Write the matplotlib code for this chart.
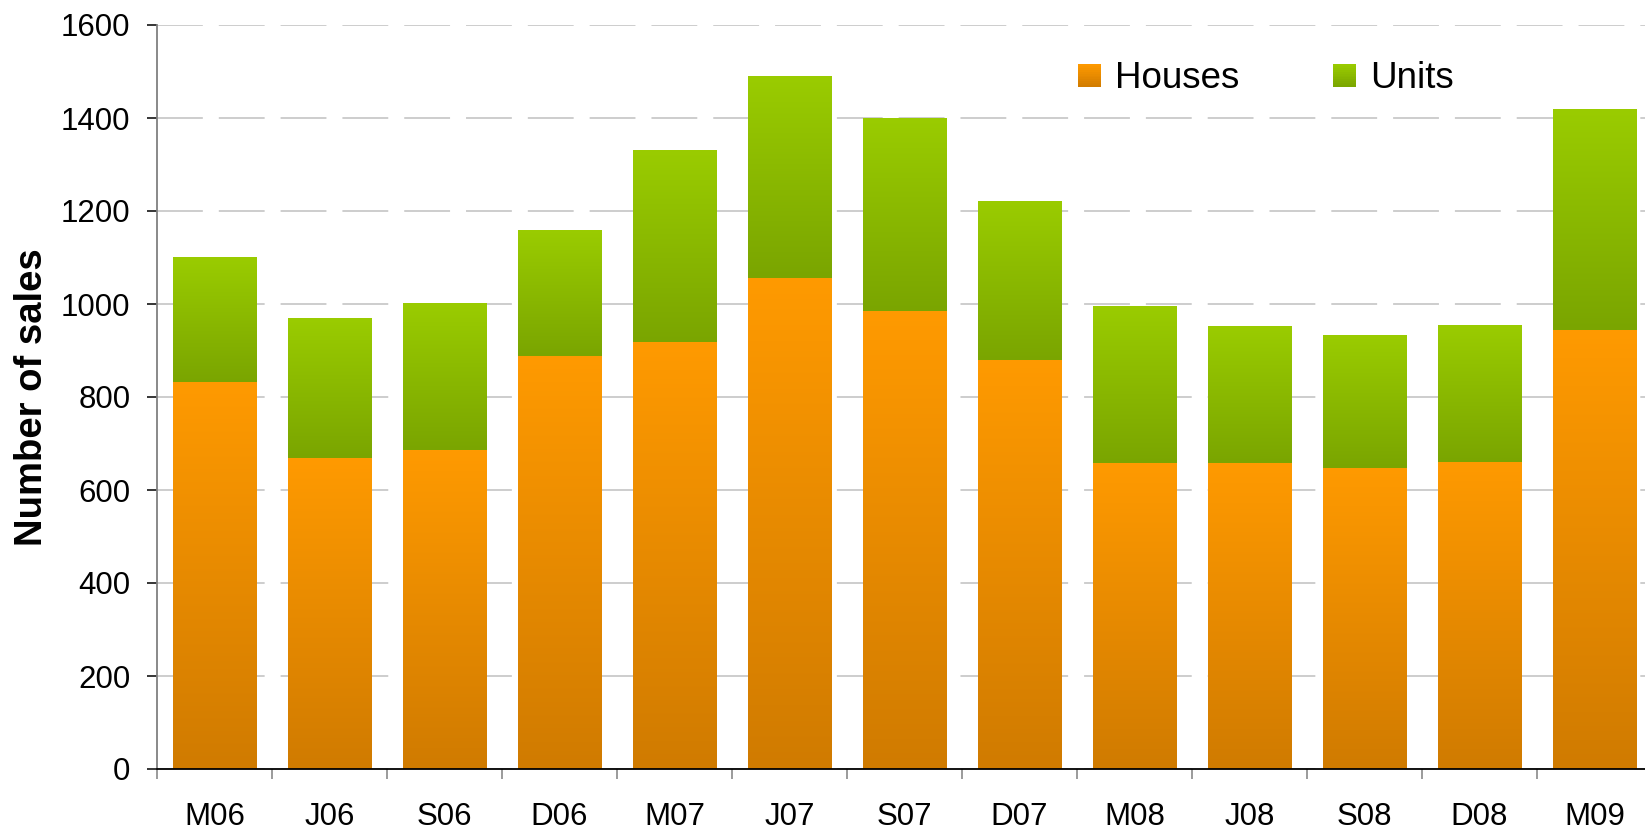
import numpy as np
import matplotlib
matplotlib.use("Agg")
import matplotlib.pyplot as plt
from matplotlib.colors import LinearSegmentedColormap
from matplotlib.patches import Rectangle
from matplotlib.legend_handler import HandlerBase

# data
quarters = ["M06", "J06", "S06", "D06", "M07", "J07", "S07", "D07",
            "M08", "J08", "S08", "D08", "M09"]
houses = [833, 668, 686, 889, 918, 1056, 986, 880, 657, 657, 648, 661, 945]
units = [268, 300, 316, 269, 411, 433, 415, 341, 336, 293, 285, 294, 474]

series_names = ["Houses", "Units"]
# (bottom colour, top colour) for the vertical gradients
gradients = {
    "Houses": ("#d07b00", "#ff9a00"),
    "Units": ("#7aa500", "#9acc00"),
}

plt.rcParams["font.family"] = ["Liberation Sans", "DejaVu Sans"]
plt.rcParams["lines.scale_dashes"] = False


def gradient_fill(ax, patches, cmap):
    """Paint each bar with a vertical gradient (dark at bottom)."""
    grad = np.linspace(0, 1, 256).reshape(-1, 1)
    for p in patches:
        x0, y0 = p.get_x(), p.get_y()
        w, h = p.get_width(), p.get_height()
        ax.imshow(grad, extent=[x0, x0 + w, y0, y0 + h], origin="lower",
                  aspect="auto", cmap=cmap, zorder=2, interpolation="bilinear")


class GradientHandler(HandlerBase):
    """Legend square with a vertical gradient."""
    def __init__(self, c_bottom, c_top, steps=12):
        super().__init__()
        self.cmap = LinearSegmentedColormap.from_list("h", [c_bottom, c_top])
        self.steps = steps

    def create_artists(self, legend, orig_handle, xdescent, ydescent,
                       width, height, fontsize, trans):
        arts = []
        side = min(width, height)
        step = side / self.steps
        for i in range(self.steps):
            r = Rectangle((-xdescent, -ydescent + i * step), side, step + 0.3,
                          facecolor=self.cmap((i + 0.5) / self.steps),
                          edgecolor="none", transform=trans)
            arts.append(r)
        return arts


fig = plt.figure(figsize=(16.45, 8.32), dpi=100)
W, H = 1645, 832
ax = fig.add_axes([157 / W, 63 / H, (1652 - 157) / W, (769 - 25) / H])

x = np.arange(len(quarters))
bw = 0.73
b1 = ax.bar(x, houses, width=bw, color="none", edgecolor="none", label="Houses")
b2 = ax.bar(x, units, width=bw, bottom=houses, color="none", edgecolor="none",
            label="Units")
gradient_fill(ax, b1.patches, LinearSegmentedColormap.from_list("o", gradients["Houses"]))
gradient_fill(ax, b2.patches, LinearSegmentedColormap.from_list("g", gradients["Units"]))

ax.set_xlim(-0.5, len(quarters) - 0.5)
ax.set_ylim(0, 1600)
ax.set_yticks(np.arange(0, 1601, 200))
ax.set_xticks(x)
ax.set_xticklabels(quarters)
ax.set_xticks(np.arange(-0.5, len(quarters) - 0.4, 1), minor=True)

ax.yaxis.grid(True, color="#c0c0c0", linewidth=1.1, dashes=(33, 11.5), zorder=0)
ax.set_axisbelow(True)

for s in ["top", "right"]:
    ax.spines[s].set_visible(False)
ax.spines["left"].set_color("#808080")
ax.spines["left"].set_linewidth(1.3)
ax.spines["bottom"].set_color("black")
ax.spines["bottom"].set_linewidth(1.3)
ax.spines["bottom"].set_zorder(3)

ax.tick_params(axis="y", length=7.2, width=1.1, color="black", pad=12,
               labelsize=22.5)
ax.tick_params(axis="x", which="major", length=0, pad=24, labelsize=22.5)
ax.tick_params(axis="x", which="minor", length=7.2, width=1.1, color="#808080")

ax.set_ylabel("Number of sales", fontsize=27.5, fontweight="bold", labelpad=8)

leg = ax.legend([b1, b2], series_names,
                handler_map={b1: GradientHandler(*gradients["Houses"]),
                             b2: GradientHandler(*gradients["Units"])},
                loc="upper left", bbox_to_anchor=(1078 / W, 1 - 61 / H),
                bbox_transform=fig.transFigure, ncol=2, frameon=False,
                fontsize=26.5, handlelength=0.62, handleheight=0.62,
                handletextpad=0.38, columnspacing=2.55, borderpad=0,
                borderaxespad=0)

fig.savefig("out.png", dpi=100)
